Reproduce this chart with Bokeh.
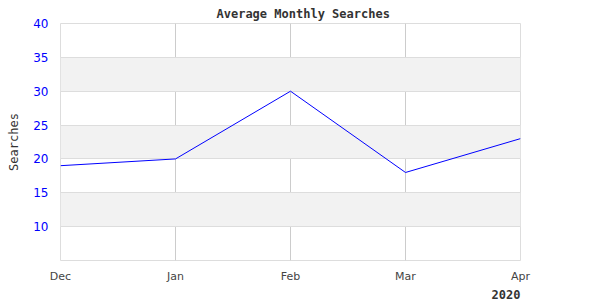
from bokeh.plotting import figure
from bokeh.models import Range1d, FixedTicker, Title
from bokeh.embed import file_html
from bokeh.resources import INLINE

months = ["Dec", "Jan", "Feb", "Mar", "Apr"]
searches = [19, 20, 30, 18, 23]
y_ticks = [10, 15, 20, 25, 30, 35, 40]
year_label = "2020"
title_text = "Average Monthly Searches"
y_title = "Searches"

xs = list(range(len(months)))

p = figure(width=600, height=300, output_backend="svg", toolbar_location=None,
           x_range=Range1d(0, len(months) - 1), y_range=Range1d(5, 40),
           min_border_left=60, min_border_right=80, min_border_top=23, min_border_bottom=0)

p.title = Title(text=title_text, align="left", offset=156, standoff=5,
                text_font="DejaVu Sans Mono", text_font_size="12px", text_font_style="bold",
                text_color="#333333")

p.line(xs, searches, line_color="#0000ff", line_width=1)

p.outline_line_color = "#dddddd"
p.outline_line_width = 1
p.background_fill_color = "white"

p.xaxis.ticker = FixedTicker(ticks=xs)
p.xaxis.major_label_overrides = {i: m for i, m in enumerate(months)}
p.xaxis.axis_line_color = None
p.xaxis.major_tick_line_color = None
p.xaxis.minor_tick_line_color = None
p.xaxis.major_label_text_font = "DejaVu Sans"
p.xaxis.major_label_text_font_size = "11px"
p.xaxis.major_label_text_color = "#444444"
p.xaxis.major_label_standoff = 3

p.yaxis.ticker = FixedTicker(ticks=y_ticks)
p.yaxis.axis_line_color = None
p.yaxis.major_tick_line_color = None
p.yaxis.minor_tick_line_color = None
p.yaxis.major_label_text_font = "DejaVu Sans"
p.yaxis.major_label_text_font_size = "12px"
p.yaxis.major_label_text_color = "#0000ff"
p.yaxis.major_label_standoff = 6
p.yaxis.axis_label = y_title
p.yaxis.axis_label_text_font = "DejaVu Sans Mono"
p.yaxis.axis_label_text_font_size = "12px"
p.yaxis.axis_label_text_font_style = "normal"
p.yaxis.axis_label_text_color = "#333333"
p.yaxis.axis_label_standoff = 9

p.xgrid.grid_line_color = "#cccccc"
p.ygrid.grid_line_color = "#dddddd"
p.ygrid.band_fill_color = "#f2f2f2"
p.ygrid.band_fill_alpha = 1.0

p.add_layout(Title(text=year_label, align="right", offset=0, standoff=4,
                   text_font="DejaVu Sans Mono", text_font_size="12px",
                   text_font_style="bold", text_color="#333333"), "below")

open("out.html", "w").write(file_html(p, INLINE))
